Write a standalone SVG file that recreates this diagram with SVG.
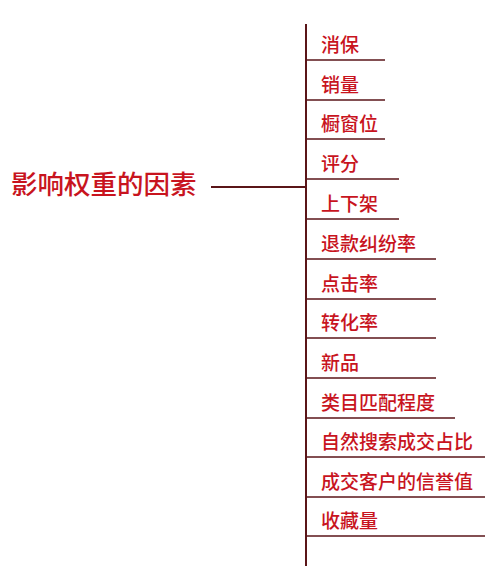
<svg xmlns="http://www.w3.org/2000/svg" width="491" height="567" viewBox="0 0 491 567">
<style>
.t{font-family:"Noto Sans CJK SC","Noto Sans CJK JP",sans-serif;font-size:19px;fill:#c8141e;font-weight:500}
.title{font-family:"Noto Sans CJK SC","Noto Sans CJK JP",sans-serif;font-size:26.5px;fill:#c8141e;font-weight:500}
.c{stroke:#5a1518;fill:none}
</style>
<rect width="491" height="567" fill="#fff"/>
<g id="connectors">
<line class="c" x1="306" y1="24" x2="306" y2="566" stroke-width="2"/>
<line class="c" x1="211" y1="187" x2="306" y2="187" stroke-width="2"/>
<line class="c" x1="306" y1="60" x2="385" y2="60" stroke-width="1.5"/>
<line class="c" x1="306" y1="100" x2="385" y2="100" stroke-width="1.5"/>
<line class="c" x1="306" y1="139" x2="385" y2="139" stroke-width="1.5"/>
<line class="c" x1="306" y1="179" x2="399" y2="179" stroke-width="1.5"/>
<line class="c" x1="306" y1="219" x2="399" y2="219" stroke-width="1.5"/>
<line class="c" x1="306" y1="259" x2="436" y2="259" stroke-width="1.5"/>
<line class="c" x1="306" y1="299" x2="436" y2="299" stroke-width="1.5"/>
<line class="c" x1="306" y1="338" x2="436" y2="338" stroke-width="1.5"/>
<line class="c" x1="306" y1="378" x2="436" y2="378" stroke-width="1.5"/>
<line class="c" x1="306" y1="418" x2="455" y2="418" stroke-width="1.5"/>
<line class="c" x1="306" y1="457" x2="485" y2="457" stroke-width="1.5"/>
<line class="c" x1="306" y1="497" x2="485" y2="497" stroke-width="1.5"/>
<line class="c" x1="306" y1="536" x2="485" y2="536" stroke-width="1.5"/>
</g>
<g id="root"><text class="title" x="11" y="194">影响权重的因素</text></g>
<g id="n1"><text class="t" x="321" y="52">消保</text></g>
<g id="n2"><text class="t" x="321" y="92">销量</text></g>
<g id="n3"><text class="t" x="321" y="131">橱窗位</text></g>
<g id="n4"><text class="t" x="321" y="171">评分</text></g>
<g id="n5"><text class="t" x="321" y="211">上下架</text></g>
<g id="n6"><text class="t" x="321" y="251">退款纠纷率</text></g>
<g id="n7"><text class="t" x="321" y="291">点击率</text></g>
<g id="n8"><text class="t" x="321" y="330">转化率</text></g>
<g id="n9"><text class="t" x="321" y="370">新品</text></g>
<g id="n10"><text class="t" x="321" y="410">类目匹配程度</text></g>
<g id="n11"><text class="t" x="321" y="449">自然搜索成交占比</text></g>
<g id="n12"><text class="t" x="321" y="489">成交客户的信誉值</text></g>
<g id="n13"><text class="t" x="321" y="528">收藏量</text></g>
</svg>
